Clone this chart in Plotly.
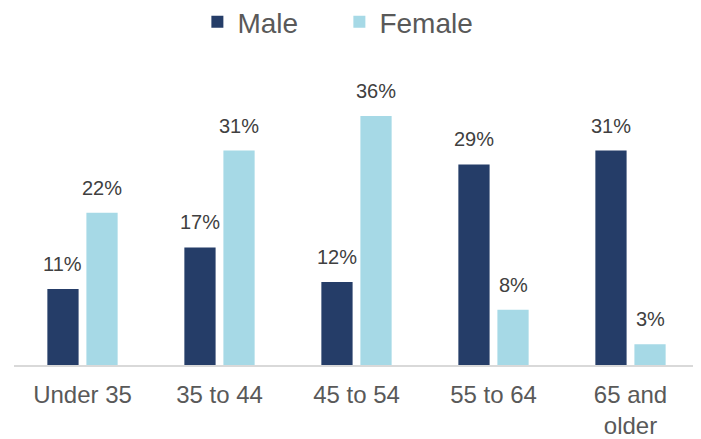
import plotly.graph_objects as go

categories = ["Under 35", "35 to 44", "45 to 54", "55 to 64", "65 and<br>older"]
male = [11, 17, 12, 29, 31]
female = [22, 31, 36, 8, 3]

series = [("Male", male, "#253D68", -1), ("Female", female, "#A6D9E6", 1)]
idx = list(range(len(categories)))

BARGAP = 0.43
GROUPGAP = 0.2
half_slot = (1 - BARGAP) / 4  # centre offset of each bar within its group

fig = go.Figure()
for name, vals, color, side in series:
    fig.add_trace(go.Bar(name=name, x=idx, y=vals, marker_color=color,
                         marker_line_width=0))
    for i, v in zip(idx, vals):
        fig.add_annotation(x=i + side * half_slot, y=v, text=f"{v}%",
                           showarrow=False, yanchor="bottom", yshift=12,
                           font=dict(size=20, color="#404040",
                                     family="Liberation Sans, Arial, sans-serif"))

fig.update_layout(
    width=701, height=439,
    barmode="group", bargap=BARGAP, bargroupgap=GROUPGAP,
    plot_bgcolor="white", paper_bgcolor="white",
    font=dict(family="Liberation Sans, Arial, sans-serif", color="#595959"),
    margin=dict(l=6, r=10, t=52, b=82, autoexpand=False),
    legend=dict(orientation="h", x=0.475, xanchor="center", y=0.968, yanchor="middle",
                yref="container", font=dict(size=28, color="#595959"),
                traceorder="normal", entrywidth=97),
    showlegend=True,
)
fig.update_xaxes(showline=True, linecolor="#D9D9D9", linewidth=2, ticks="",
                 tickmode="array", tickvals=idx, ticktext=categories,
                 range=[-0.5, len(categories) - 0.5], ticklabelstandoff=7,
                 automargin=False,
                 tickfont=dict(size=24, color="#595959"))
fig.update_yaxes(visible=False, range=[0, 44.1], showgrid=False, zeroline=False)

fig.write_html("out.html")
